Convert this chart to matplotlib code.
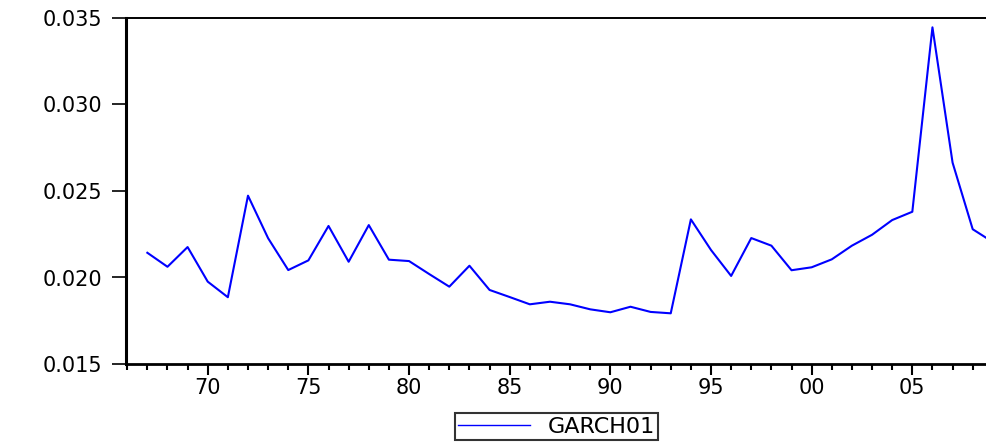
import numpy as np
import matplotlib
matplotlib.use('Agg')
import matplotlib.pyplot as plt
from matplotlib.ticker import MultipleLocator, FixedLocator

# annual conditional variance series, 1967-2009
years = list(range(1967, 2010))
garch01 = [0.02143, 0.02062, 0.02176, 0.01976, 0.01886, 0.02473, 0.02227, 0.02043,
           0.02099, 0.02298, 0.02091, 0.02303, 0.02103, 0.02095, 0.02020, 0.01947,
           0.02068, 0.01928, 0.01887, 0.01845, 0.01860, 0.01845, 0.01816, 0.01799,
           0.01831, 0.01801, 0.01793, 0.02336, 0.02159, 0.02009, 0.02228, 0.02184,
           0.02042, 0.02059, 0.02105, 0.02184, 0.02247, 0.02332, 0.02380, 0.03446,
           0.02664, 0.02279, 0.02205]

yticks = [0.015, 0.020, 0.025, 0.030, 0.035]
ytick_labels = ['0.015', '0.020', '0.025', '0.030', '0.035']
xticks = [1970, 1975, 1980, 1985, 1990, 1995, 2000, 2005]
xtick_labels = ['70', '75', '80', '85', '90', '95', '00', '05']

plt.rcParams['font.family'] = ['DejaVu Sans']

fig = plt.figure(figsize=(9.87, 4.44), dpi=100)
ax = fig.add_axes([126 / 987, 1 - 364 / 444, 1 - 126 / 987, (364 - 18) / 444])

line, = ax.plot(years, garch01, color='#0000ff', lw=1.5, label='GARCH01')

ax.set_xlim(1965.94, 2008.71)
ax.set_ylim(0.015, 0.035)

ax.yaxis.set_major_locator(FixedLocator(yticks))
ax.set_yticklabels(ytick_labels, fontsize=15)
ax.xaxis.set_major_locator(FixedLocator(xticks))
ax.xaxis.set_minor_locator(MultipleLocator(1))
ax.set_xticklabels(xtick_labels, fontsize=15)

ax.tick_params(axis='y', direction='out', length=10, width=1.2, pad=7)
ax.tick_params(axis='x', which='major', direction='out', length=8, width=1.5, pad=2)
ax.tick_params(axis='x', which='minor', direction='out', length=4.5, width=1.5)

ax.spines['right'].set_visible(False)
ax.spines['left'].set_linewidth(2.2)
ax.spines['bottom'].set_linewidth(2.0)
ax.spines['top'].set_linewidth(1.4)

leg = fig.legend(handles=[line], loc='center', bbox_to_anchor=(556.5 / 987, 1 - 426.5 / 444),
                 fontsize=16, frameon=True, fancybox=False, edgecolor='black',
                 handlelength=3.2, handletextpad=0.8, borderpad=0.15, borderaxespad=0)
leg.get_frame().set_linewidth(1.5)
leg.get_lines()[0].set_linewidth(1.0)

fig.savefig('out.png', dpi=100)
